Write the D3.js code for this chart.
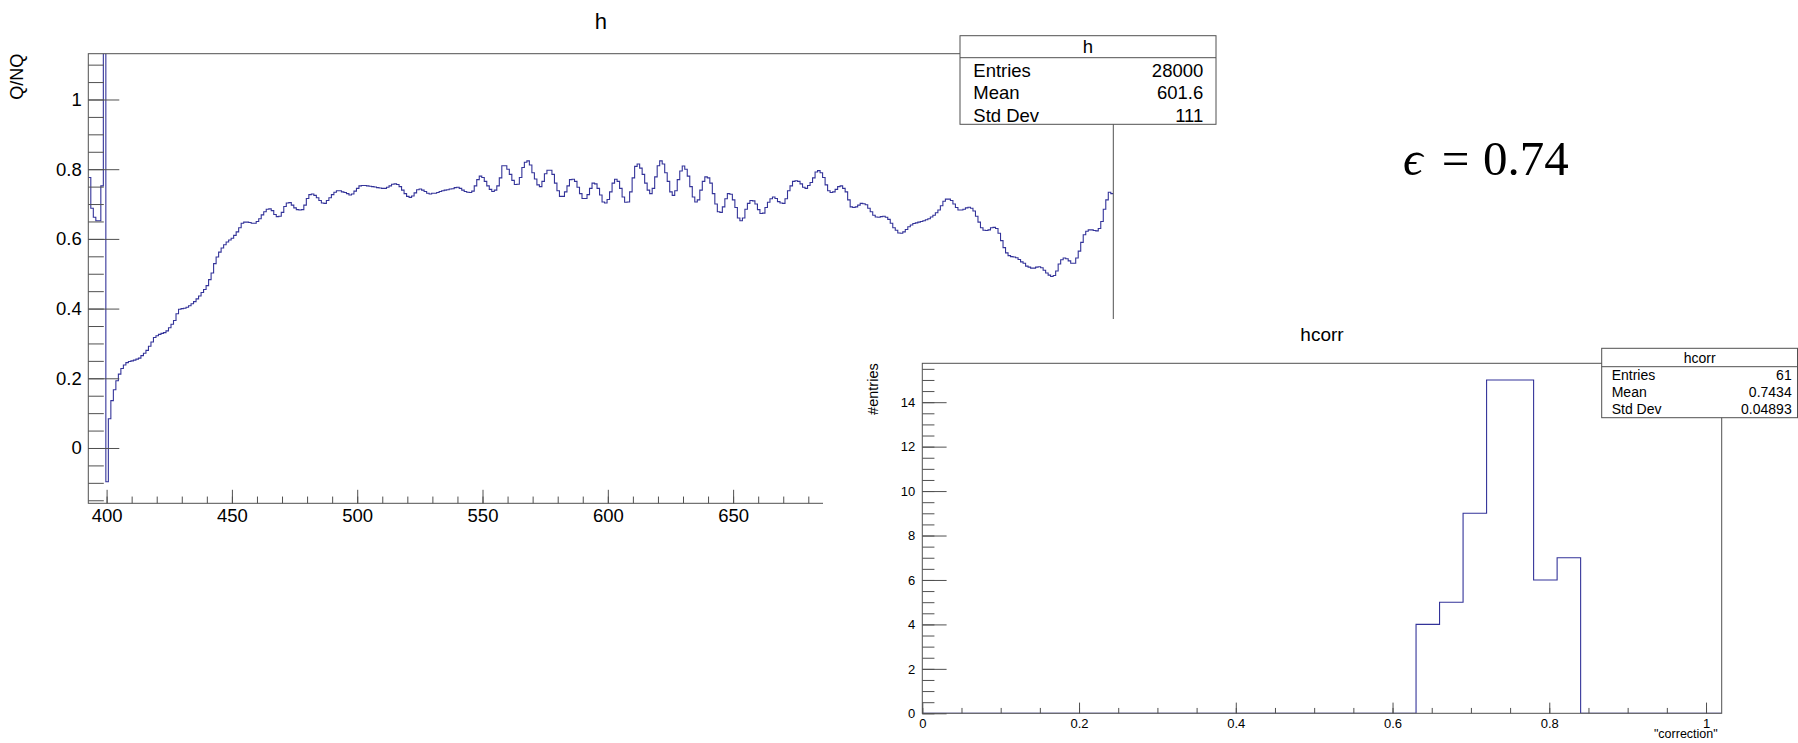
<!DOCTYPE html>
<html>
<head>
<meta charset="utf-8">
<script src="https://cdn.jsdelivr.net/npm/d3@7"></script>
<style>
body { margin: 0; background: #fff; }
svg { display: block; font-family: "Liberation Sans", Arial, sans-serif; }
</style>
</head>
<body>
<svg class="canvas"></svg>
<script>
// ---- data ----
var hFirstEdge = 392.7,
    hBinWidth = 1;

var hValues = [
    0.776, 0.688, 0.662, 0.652, 0.652, 0.752, 1.6, -0.097, 0.084, 0.136,
    0.167, 0.193, 0.212, 0.228, 0.238, 0.245, 0.248, 0.250, 0.252, 0.255,
    0.258, 0.265, 0.272, 0.280, 0.292, 0.304, 0.317, 0.322, 0.326, 0.329,
    0.331, 0.336, 0.345, 0.355, 0.366, 0.385, 0.398, 0.400, 0.401, 0.404,
    0.408, 0.414, 0.420, 0.428, 0.436, 0.446, 0.455, 0.466, 0.483, 0.502,
    0.529, 0.548, 0.562, 0.574, 0.583, 0.591, 0.597, 0.602, 0.610, 0.620,
    0.632, 0.645, 0.648, 0.648, 0.647, 0.645, 0.645, 0.650, 0.658, 0.669,
    0.678, 0.685, 0.686, 0.681, 0.670, 0.664, 0.665, 0.676, 0.693, 0.703,
    0.704, 0.697, 0.689, 0.684, 0.683, 0.684, 0.697, 0.716, 0.727, 0.729,
    0.725, 0.718, 0.710, 0.703, 0.702, 0.710, 0.718, 0.727, 0.734, 0.738,
    0.738, 0.735, 0.733, 0.730, 0.726, 0.729, 0.737, 0.745, 0.752, 0.753,
    0.753, 0.752, 0.751, 0.750, 0.749, 0.747, 0.746, 0.745, 0.745, 0.748,
    0.752, 0.757, 0.758, 0.756, 0.750, 0.740, 0.730, 0.722, 0.719, 0.723,
    0.732, 0.741, 0.743, 0.740, 0.736, 0.731, 0.729, 0.731, 0.731, 0.733,
    0.736, 0.738, 0.740, 0.741, 0.743, 0.744, 0.747, 0.748, 0.745, 0.740,
    0.736, 0.734, 0.733, 0.737, 0.752, 0.770, 0.780, 0.776, 0.765, 0.752,
    0.742, 0.736, 0.740, 0.752, 0.775, 0.810, 0.810, 0.800, 0.785, 0.768,
    0.756, 0.757, 0.776, 0.805, 0.820, 0.824, 0.812, 0.790, 0.772, 0.755,
    0.750, 0.765, 0.787, 0.797, 0.797, 0.785, 0.760, 0.738, 0.722, 0.722,
    0.735, 0.752, 0.770, 0.771, 0.765, 0.748, 0.730, 0.716, 0.716, 0.727,
    0.745, 0.760, 0.758, 0.745, 0.726, 0.706, 0.703, 0.713, 0.735, 0.760,
    0.771, 0.765, 0.745, 0.720, 0.705, 0.706, 0.735, 0.775, 0.808, 0.815,
    0.803, 0.785, 0.760, 0.740, 0.730, 0.745, 0.778, 0.810, 0.824, 0.815,
    0.790, 0.765, 0.735, 0.725, 0.738, 0.770, 0.795, 0.809, 0.800, 0.780,
    0.750, 0.720, 0.706, 0.712, 0.740, 0.765, 0.778, 0.775, 0.760, 0.730,
    0.700, 0.678, 0.676, 0.692, 0.715, 0.730, 0.728, 0.712, 0.690, 0.660,
    0.652, 0.660, 0.685, 0.702, 0.710, 0.709, 0.700, 0.684, 0.673, 0.674,
    0.690, 0.705, 0.715, 0.720, 0.716, 0.707, 0.703, 0.702, 0.715, 0.738,
    0.752, 0.765, 0.767, 0.765, 0.758, 0.748, 0.745, 0.753, 0.762, 0.775,
    0.792, 0.796, 0.790, 0.776, 0.755, 0.738, 0.733, 0.735, 0.742, 0.750,
    0.752, 0.745, 0.735, 0.712, 0.692, 0.690, 0.692, 0.697, 0.702, 0.701,
    0.698, 0.688, 0.678, 0.668, 0.663, 0.662, 0.664, 0.665, 0.662, 0.656,
    0.645, 0.632, 0.625, 0.617, 0.616, 0.620, 0.627, 0.635, 0.640, 0.644,
    0.646, 0.648, 0.650, 0.652, 0.655, 0.658, 0.663, 0.668, 0.675, 0.683,
    0.695, 0.708, 0.714, 0.714, 0.710, 0.700, 0.690, 0.683, 0.683, 0.685,
    0.689, 0.691, 0.688, 0.680, 0.665, 0.648, 0.632, 0.625, 0.624, 0.626,
    0.632, 0.633, 0.630, 0.616, 0.595, 0.575, 0.560, 0.552, 0.549, 0.548,
    0.546, 0.541, 0.534, 0.530, 0.522, 0.519, 0.516, 0.516, 0.519, 0.520,
    0.517, 0.510, 0.502, 0.496, 0.492, 0.495, 0.508, 0.528, 0.540, 0.545,
    0.543, 0.537, 0.530, 0.530, 0.545, 0.565, 0.590, 0.612, 0.622, 0.626,
    0.626, 0.624, 0.623, 0.630, 0.650, 0.685, 0.712, 0.734, 0.730
];

var hXTicks = [400, 450, 500, 550, 600, 650, 700, 750, 800],
    hYTicks = [0, 0.2, 0.4, 0.6, 0.8, 1];

var hStatLabels = ["Entries", "Mean", "Std Dev"],
    hStatValues = ["28000", "601.6", "111"];

var hcorrFirstEdge = 0,
    hcorrBinWidth = 0.03;

var hcorrCounts = [
    0, 0, 0, 0, 0, 0, 0, 0, 0, 0,
    0, 0, 0, 0, 0, 0, 0, 0, 0, 0,
    0, 4, 5, 9, 15, 15, 6, 7, 0, 0,
    0, 0, 0, 0
];

var hcorrXTicks = [0, 0.2, 0.4, 0.6, 0.8, 1],
    hcorrYTicks = [0, 2, 4, 6, 8, 10, 12, 14];

var hcorrStatLabels = ["Entries", "Mean", "Std Dev"],
    hcorrStatValues = ["61", "0.7434", "0.04893"];

// ---- drawing ----
var width = 1798,
    height = 743,
    lineColor = "#505050",
    histColor = "#333399";

var svg = d3.select('.canvas')
    .attr("width", width)
    .attr("height", height);

svg.append("rect")
    .attr("width", width)
    .attr("height", height)
    .attr("fill", "#fff");

function histPoints(first, w, values, fromBase) {
    var pts = values.map(function (v, i) {
        return [first + i * w, v];
    });
    pts.push([first + values.length * w, values[values.length - 1]]);
    if (fromBase) {
        pts.unshift([first, 0]);
        pts.push([first + values.length * w, 0]);
    }
    return pts;
}

function styleAxis(g, fontSize) {
    g.select(".domain").remove();
    g.selectAll("line").attr("stroke", lineColor);
    g.selectAll("text")
        .attr("fill", "#000")
        .attr("font-size", fontSize)
        .attr("font-family", '"Liberation Sans", Arial, sans-serif');
}

function drawPad(p) {
    var x = d3.scaleLinear().domain(p.xDomain).range([p.left, p.right]),
        y = d3.scaleLinear().domain(p.yDomain).range([p.bottom, p.top]);

    var clipId = "clip-" + p.name;
    svg.append("clipPath").attr("id", clipId)
        .append("rect")
        .attr("x", p.left).attr("y", p.top)
        .attr("width", p.right - p.left)
        .attr("height", p.bottom - p.top);

    var line = d3.line()
        .x(function (d) { return x(d[0]); })
        .y(function (d) { return y(d[1]); })
        .curve(d3.curveStepAfter);

    svg.append("path")
        .datum(histPoints(p.firstEdge, p.binWidth, p.values, p.fromBase))
        .attr("clip-path", "url(#" + clipId + ")")
        .attr("d", line)
        .attr("fill", "none")
        .attr("stroke", histColor)
        .attr("stroke-width", 1.1);

    // minor ticks
    var gxm = svg.append("g")
        .attr("transform", "translate(0," + p.bottom + ")")
        .call(d3.axisBottom(x).tickValues(p.xMinor).tickSize(-p.xTick / 2).tickFormat(""));
    styleAxis(gxm, p.labelSize);
    var gym = svg.append("g")
        .attr("transform", "translate(" + p.left + ",0)")
        .call(d3.axisLeft(y).tickValues(p.yMinor).tickSize(-p.yTick / 2).tickFormat(""));
    styleAxis(gym, p.labelSize);

    // major ticks + labels
    var gx = svg.append("g")
        .attr("transform", "translate(0," + p.bottom + ")")
        .call(d3.axisBottom(x).tickValues(p.xTicks).tickSize(-p.xTick)
            .tickPadding(p.xPad).tickFormat(d3.format("~g")));
    styleAxis(gx, p.labelSize);
    var gy = svg.append("g")
        .attr("transform", "translate(" + p.left + ",0)")
        .call(d3.axisLeft(y).tickValues(p.yTicks).tickSize(-p.yTick)
            .tickPadding(p.yPad).tickFormat(d3.format("~g")));
    styleAxis(gy, p.labelSize);

    svg.append("rect")
        .attr("x", p.left).attr("y", p.top)
        .attr("width", p.right - p.left)
        .attr("height", p.bottom - p.top)
        .attr("fill", "none")
        .attr("stroke", lineColor);

    svg.append("text")
        .text(p.title)
        .attr("x", (p.left + p.right) / 2)
        .attr("y", p.titleY)
        .attr("text-anchor", "middle")
        .attr("font-size", p.titleSize);

    svg.append("text")
        .text(p.yTitle)
        .attr("transform", "translate(" + p.yTitleX + "," + p.top + ") rotate(-90)")
        .attr("text-anchor", "end")
        .attr("font-size", p.yTitleSize);

    if (p.xTitle) {
        svg.append("text")
            .text(p.xTitle)
            .attr("x", p.right - 4)
            .attr("y", p.xTitleY)
            .attr("text-anchor", "end")
            .attr("font-size", p.xTitleSize);
    }
}

function drawStats(s) {
    var g = svg.append("g");
    g.append("rect")
        .attr("x", s.x0).attr("y", s.y0)
        .attr("width", s.x1 - s.x0).attr("height", s.y1 - s.y0)
        .attr("fill", "#fff")
        .attr("stroke", lineColor);
    g.append("line")
        .attr("x1", s.x0).attr("x2", s.x1)
        .attr("y1", s.yHead).attr("y2", s.yHead)
        .attr("stroke", lineColor);
    g.append("text")
        .text(s.title)
        .attr("x", (s.x0 + s.x1) / 2 + s.titleShift)
        .attr("y", s.titleY)
        .attr("text-anchor", "middle")
        .attr("font-size", s.size);
    g.selectAll("text.lab")
        .data(s.labels)
        .enter()
        .append("text")
        .attr("class", "lab")
        .text(function (d) { return d; })
        .attr("x", s.textLeft)
        .attr("y", function (d, i) { return s.rowY[i]; })
        .attr("font-size", s.size);
    g.selectAll("text.val")
        .data(s.values)
        .enter()
        .append("text")
        .attr("class", "val")
        .text(function (d) { return d; })
        .attr("x", s.textRight)
        .attr("y", function (d, i) { return s.rowY[i]; })
        .attr("text-anchor", "end")
        .attr("font-size", s.size);
}

// pad "h"
drawPad({
    name: "h",
    left: 88.3, right: 1113.3, top: 53.7, bottom: 503.3,
    xDomain: [392.7, 801.7], yDomain: [-0.1587, 1.1314],
    firstEdge: hFirstEdge, binWidth: hBinWidth, values: hValues, fromBase: false,
    xTicks: hXTicks, yTicks: hYTicks,
    xMinor: d3.range(400, 802, 10),
    yMinor: d3.range(-3, 23).map(function (k) { return k * 0.05; }),
    xTick: 13.5, yTick: 31, xPad: 6, yPad: 6.6,
    labelSize: 18.5,
    title: "h", titleY: 29, titleSize: 22,
    yTitle: "Q/NQ", yTitleX: 23, yTitleSize: 18
});

drawStats({
    x0: 960, x1: 1216, y0: 35.7, y1: 124.3, yHead: 57.7,
    title: "h", titleShift: 0, titleY: 53.3,
    labels: hStatLabels, values: hStatValues,
    textLeft: 973.3, textRight: 1203.3,
    rowY: [76.7, 99.3, 121.7], size: 18.5
});

// pad "hcorr" drawn on top
svg.append("rect")
    .attr("x", 823).attr("y", 319)
    .attr("width", width - 823).attr("height", height - 319)
    .attr("fill", "#fff");

drawPad({
    name: "hcorr",
    left: 922.3, right: 1721.7, top: 363.3, bottom: 713.3,
    xDomain: [0, 1.02], yDomain: [0, 15.75],
    firstEdge: hcorrFirstEdge, binWidth: hcorrBinWidth, values: hcorrCounts, fromBase: true,
    xTicks: hcorrXTicks, yTicks: hcorrYTicks,
    xMinor: d3.range(0, 21).map(function (k) { return k * 0.05; }),
    yMinor: d3.range(0, 32).map(function (k) { return k * 0.5; }),
    xTick: 10.7, yTick: 24.3, xPad: 5, yPad: 7,
    labelSize: 13,
    title: "hcorr", titleY: 340.7, titleSize: 19,
    yTitle: "#entries", yTitleX: 878, yTitleSize: 14.5,
    xTitle: "\"correction\"", xTitleY: 738, xTitleSize: 12.5
});

drawStats({
    x0: 1601.7, x1: 1797.5, y0: 348.3, y1: 417.7, yHead: 366.7,
    title: "hcorr", titleShift: 0, titleY: 363.3,
    labels: hcorrStatLabels, values: hcorrStatValues,
    textLeft: 1611.7, textRight: 1791.7,
    rowY: [380, 397.3, 414.3], size: 14
});

// efficiency label
var eps = svg.append("g")
    .attr("font-family", '"Liberation Serif", "DejaVu Serif", serif')
    .attr("font-size", 49);
eps.append("text").text("\u03f5").attr("x", 1403).attr("y", 175).attr("font-style", "italic");
eps.append("text").text("=").attr("x", 1441.7).attr("y", 175);
eps.append("text").text("0.74").attr("x", 1483).attr("y", 175);
</script>
</body>
